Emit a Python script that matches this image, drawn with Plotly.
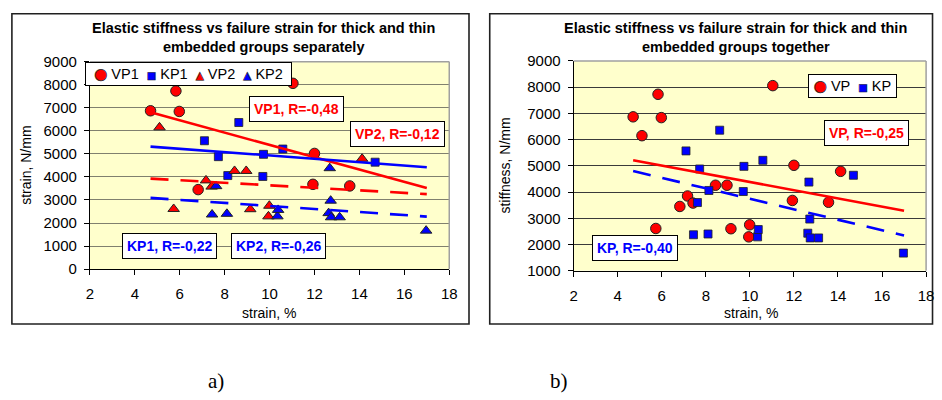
import numpy as np
import plotly.graph_objects as go

# ---------------- data ----------------
VP1_X = [4.70, 5.83, 5.98, 6.82, 11.04, 11.93, 12.00, 13.57]
VP1_Y = [6870, 7730, 6840, 3450, 8060, 3680, 5020, 3610]
KP1_X = [7.10, 7.72, 8.14, 8.63, 9.70, 9.73, 10.59, 14.70]
KP1_Y = [5570, 4880, 4060, 6360, 4020, 4980, 5210, 4640]
VP2_X = [5.10, 5.73, 7.17, 7.42, 8.44, 8.96, 9.14, 9.95, 9.99, 14.12]
VP2_Y = [6150, 2610, 3850, 3580, 4260, 4260, 2600, 2290, 2750, 4790]
KP2_X = [7.44, 7.62, 8.10, 10.35, 10.38, 12.63, 12.68, 12.72, 12.74, 13.12, 16.97]
KP2_Y = [2370, 3600, 2400, 2290, 2570, 2430, 4380, 2970, 2250, 2250, 1670]

VP_X = VP1_X + VP2_X
VP_Y = VP1_Y + VP2_Y
KP_X = KP1_X + KP2_X
KP_Y = KP1_Y + KP2_Y

TREND_X = [4.7, 17.0]
X_TICKS = [2, 4, 6, 8, 10, 12, 14, 16, 18]
YA_TICKS = [0, 1000, 2000, 3000, 4000, 5000, 6000, 7000, 8000, 9000]
YB_TICKS = [1000, 2000, 3000, 4000, 5000, 6000, 7000, 8000, 9000]

SERIES_A = ["VP1", "KP1", "VP2", "KP2"]
SERIES_B = ["VP", "KP"]
LABELS_A = ["VP1, R=-0,48", "VP2, R=-0,12", "KP1, R=-0,22", "KP2, R=-0,26"]
LABELS_B = ["VP, R=-0,25", "KP, R=-0,40"]
TITLE_A = ["Elastic stiffness vs failure strain for thick and thin", "embedded groups separately"]
TITLE_B = ["Elastic stiffness vs failure strain for thick and thin", "embedded groups together"]


def trend(xs, ys):
    m, b = np.polyfit(xs, ys, 1)
    return [m * x + b for x in TREND_X]


RED = "#FF0000"
BLUE = "#0000FF"
FONT = "Arial, Liberation Sans, sans-serif"
W, H = 942, 400


def px(x):
    return x / W


def py(y):
    return 1 - y / H


fig = go.Figure()

mk_circle = dict(symbol="circle", size=10.5, color=RED, line=dict(color="#222", width=1))
mk_square = dict(symbol="square", size=8, color=BLUE, line=dict(color="#222", width=0.8))
mk_tri_r = dict(symbol="triangle-up", size=10, color=RED, line=dict(color="#222", width=1))
mk_tri_b = dict(symbol="triangle-up", size=10, color=BLUE, line=dict(color="#222", width=1))

# chart a markers
for xs, ys, nm, mk in [(VP1_X, VP1_Y, SERIES_A[0], mk_circle), (KP1_X, KP1_Y, SERIES_A[1], mk_square),
                       (VP2_X, VP2_Y, SERIES_A[2], mk_tri_r), (KP2_X, KP2_Y, SERIES_A[3], mk_tri_b)]:
    fig.add_trace(go.Scatter(x=xs, y=ys, mode="markers", name=nm, marker=mk,
                             xaxis="x", yaxis="y", showlegend=False))
# chart a trend lines
DASH = "18px,12px"
for xs, ys, col, dash in [(VP1_X, VP1_Y, RED, "solid"), (KP1_X, KP1_Y, BLUE, "solid"),
                          (VP2_X, VP2_Y, RED, DASH), (KP2_X, KP2_Y, BLUE, DASH)]:
    fig.add_trace(go.Scatter(x=TREND_X, y=trend(xs, ys), mode="lines", showlegend=False,
                             line=dict(color=col, width=2.6, dash=dash),
                             xaxis="x", yaxis="y", hoverinfo="skip"))

# chart b markers
for xs, ys, nm, mk in [(VP_X, VP_Y, SERIES_B[0], mk_circle), (KP_X, KP_Y, SERIES_B[1], mk_square)]:
    fig.add_trace(go.Scatter(x=xs, y=ys, mode="markers", name=nm, marker=mk,
                             xaxis="x2", yaxis="y2", showlegend=False))
for xs, ys, col, dash in [(VP_X, VP_Y, RED, "solid"), (KP_X, KP_Y, BLUE, DASH)]:
    fig.add_trace(go.Scatter(x=TREND_X, y=trend(xs, ys), mode="lines", showlegend=False,
                             line=dict(color=col, width=2.6, dash=dash),
                             xaxis="x2", yaxis="y2", hoverinfo="skip"))

axis_common = dict(showline=True, linecolor="black", linewidth=1, ticks="outside",
                   ticklen=5, tickcolor="black", zeroline=False,
                   tickfont=dict(family=FONT, size=15, color="black"))

fig.update_layout(
    width=W, height=H, autosize=False,
    margin=dict(l=0, r=0, t=0, b=0),
    paper_bgcolor="white", plot_bgcolor="#FFFFCC",
    font=dict(family=FONT, color="black"),
    showlegend=False,
    xaxis=dict(domain=[px(87), px(451)], range=[2, 18], tickvals=X_TICKS, showgrid=False,
               anchor="y", ticklabelstandoff=6, **axis_common),
    yaxis=dict(domain=[py(271.7), py(55)], range=[0, 9000], tickvals=YA_TICKS, showgrid=True,
               gridcolor="#80806E", gridwidth=1.3, anchor="x", ticklabelstandoff=4,
               **axis_common),
    xaxis2=dict(domain=[px(577), px(934)], range=[2, 18], tickvals=X_TICKS, showgrid=False,
                anchor="y2", ticklabelstandoff=6, **axis_common),
    yaxis2=dict(domain=[py(273.3), py(54.3)], range=[1000, 9000], tickvals=YB_TICKS,
                showgrid=True, gridcolor="#3A3A3A", gridwidth=1.2, anchor="x2",
                ticklabelstandoff=4, **axis_common),
)

shapes = []
# panel borders
for x0, x1 in [(8, 471), (492, 940.5)]:
    shapes.append(dict(type="rect", xref="paper", yref="paper", x0=px(x0), x1=px(x1),
                       y0=py(329), y1=py(5), line=dict(color="#202020", width=1.6),
                       layer="below"))
# plot-area top/right borders (gray)
for xr, yr in [("x domain", "y domain"), ("x2 domain", "y2 domain")]:
    shapes.append(dict(type="line", xref=xr, yref=yr, x0=0, x1=1, y0=1, y1=1,
                       line=dict(color="#A0A0A0", width=1.5)))
    shapes.append(dict(type="line", xref=xr, yref=yr, x0=1, x1=1, y0=0, y1=1,
                       line=dict(color="#A0A0A0", width=1.5)))
fig.update_layout(shapes=shapes)

ann = []


def add_text(text, x, y, size, color="black", family=FONT, angle=0, xanchor="center",
             yanchor="middle", **kw):
    ann.append(dict(text=text, x=px(x), y=py(y), xref="paper", yref="paper",
                    xanchor=xanchor, yanchor=yanchor, showarrow=False, textangle=angle,
                    font=dict(size=size, family=family, color=color), **kw))


# titles
add_text("<b>" + TITLE_A[0] + "</b>", 263, 20, 14.5)
add_text("<b>" + TITLE_A[1] + "</b>", 263, 39.5, 14.5)
add_text("<b>" + TITLE_B[0] + "</b>", 741, 20, 14.5)
add_text("<b>" + TITLE_B[1] + "</b>", 741, 39.5, 14.5)
# axis titles
add_text("strain, %", 268, 317, 14)
add_text("strain, %", 757, 317, 14)
add_text("strain, N/mm", 22, 163, 14, angle=-90)
add_text("stiffness, N/mm", 508, 164, 14, angle=-90)
# R boxes
box_pos_a = [(296, 104, RED), (399, 131, RED), (168, 248, BLUE), (278, 248, BLUE)]
for t, (bx, by, c) in zip(LABELS_A, box_pos_a):
    add_text("<b>" + t + "</b>", bx, by, 14, color=c, bgcolor="white", bordercolor="black",
             borderwidth=1, borderpad=4)
box_pos_b = [(874, 130, RED), (639, 250, BLUE)]
for t, (bx, by, c) in zip(LABELS_B, box_pos_b):
    add_text("<b>" + t + "</b>", bx, by, 14, color=c, bgcolor="white", bordercolor="black",
             borderwidth=1, borderpad=4)

# compact legends (symbols drawn as outlined glyphs)
SYM = {
    "circle": '<span style="font-family:DejaVu Sans;font-size:15px;color:%s;stroke:#222;stroke-width:0.7px">&#9679;</span>',
    "square": '<span style="font-family:DejaVu Sans;font-size:10px;color:%s;stroke:#222;stroke-width:0.5px">&#9632;</span>',
    "tri": '<span style="font-family:DejaVu Sans;font-size:10.5px;color:%s;stroke:#222;stroke-width:0.6px">&#9650;</span>',
}
SP = "\u00a0"
items_a = [(SYM["circle"] % RED, SERIES_A[0]), (SYM["square"] % BLUE, SERIES_A[1]),
           (SYM["tri"] % RED, SERIES_A[2]), (SYM["tri"] % BLUE, SERIES_A[3])]
leg_a = (SP * 2).join(s + SP + n for s, n in items_a)
add_text(leg_a, 82, 55, 14.5, xanchor="left", yanchor="top", bgcolor="white",
         bordercolor="black", borderwidth=1, borderpad=1, width=203, height=20, align="center")
items_b = [(SYM["circle"] % RED, SERIES_B[0]), (SYM["square"] % BLUE, SERIES_B[1])]
leg_b = (SP * 2).join(s + SP + n for s, n in items_b)
add_text(leg_b, 814, 68, 14.5, xanchor="left", yanchor="top", bgcolor="white",
         bordercolor="black", borderwidth=1, borderpad=1, width=85, height=20, align="center")

# sub-figure labels
add_text("a)", 215, 388, 21, family="Liberation Serif, serif")
add_text("b)", 562, 388, 21, family="Liberation Serif, serif")
fig.update_layout(annotations=ann)

fig.write_html("out.html",
               post_script="document.body.style.margin='0';document.body.style.overflow='hidden';")
